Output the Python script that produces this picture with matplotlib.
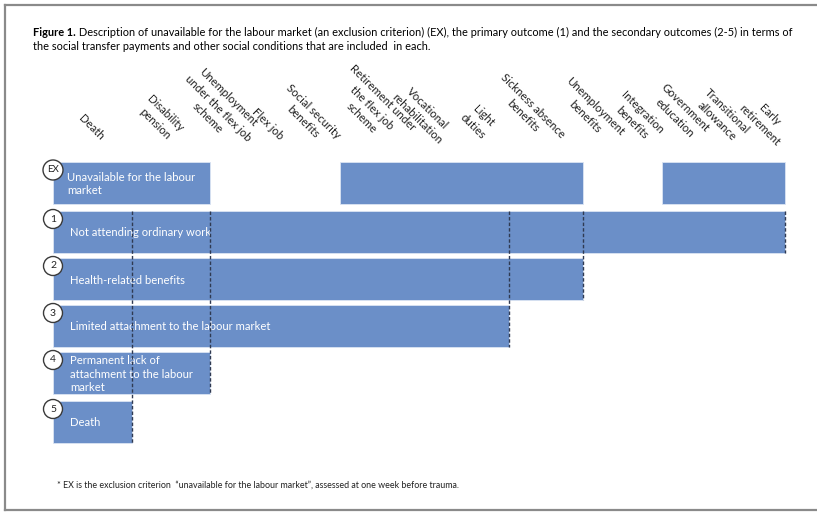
import numpy as np
import matplotlib
matplotlib.use('Agg')
import matplotlib.pyplot as plt
from matplotlib.patches import Circle
from matplotlib.lines import Line2D

plt.rcParams['font.family'] = ['Lato', 'DejaVu Sans']

# ── Data ──────────────────────────────────────────────────
categories = [
    "Death", "Disability\npension", "Unemployment\nunder the flex job\nscheme",
    "Flex job", "Social security\nbenefits", "Retirement under\nthe flex job\nscheme",
    "Vocational\nrehabilitation", "Light\nduties", "Sickness absence\nbenefits",
    "Unemployment\nbenefits", "Integration\nbenefits", "Government\neducation",
    "Transitional\nallowance", "Early\nretirement",
]
outcome_ids = ["EX", "1", "2", "3", "4", "5"]
outcome_names = [
    "Unavailable for the labour\nmarket",
    "Not attending ordinary work",
    "Health-related benefits",
    "Limited attachment to the labour market",
    "Permanent lack of\nattachment to the labour\nmarket",
    "Death",
]
# 1 = category included in outcome
included = [
    [1, 1, 1, 0, 0, 1, 1, 1, 1, 0, 0, 1, 1, 1],  # EX
    [1, 1, 1, 1, 1, 1, 1, 1, 1, 1, 1, 1, 1, 1],  # 1
    [1, 1, 1, 1, 1, 1, 1, 1, 1, 0, 0, 0, 0, 0],  # 2
    [1, 1, 1, 1, 1, 1, 1, 1, 0, 0, 0, 0, 0, 0],  # 3
    [1, 1, 1, 0, 0, 0, 0, 0, 0, 0, 0, 0, 0, 0],  # 4
    [1, 0, 0, 0, 0, 0, 0, 0, 0, 0, 0, 0, 0, 0],  # 5
]
title_bold = "Figure 1."
title_rest = (" Description of unavailable for the labour market (an exclusion criterion) (EX), "
              "the primary outcome (1) and the secondary outcomes (2-5) in terms of")
title_line2 = "the social transfer payments and other social conditions that are included  in each."
footnote = ('* EX is the exclusion criterion  \u201cunavailable for the labour market\u201d, '
            'assessed at one week before trauma.')

# ── Layout (pixel units, y down) ──────────────────────────
W, H = 817, 518
col_edges = [53, 132, 171, 210, 275, 340, 396, 453, 509, 583, 622, 662, 703, 744, 785]
label_xy = [(91, 127), (160, 119), (218, 108), (268, 124), (308, 117), (372, 108),
            (422, 114), (478, 121), (528, 111), (590, 112), (637, 118), (680, 113),
            (722, 116), (765, 120)]
row_top = [162, 211, 258, 305, 352, 401]
bar_h = 42
BLUE = '#6b8fc8'


def runs(flags):
    """Contiguous included runs -> (start_idx, end_idx_exclusive)."""
    out, start = [], None
    for i, f in enumerate(list(flags) + [0]):
        if f and start is None:
            start = i
        elif not f and start is not None:
            out.append((start, i))
            start = None
    return out


fig = plt.figure(figsize=(W / 100, H / 100), dpi=100)
ax = fig.add_axes([0, 0, 1, 1])
ax.set_xlim(0, W)
ax.set_ylim(H, 0)
ax.set_axis_off()

# Frame
for xs, ys in [((5, W + 5), (5, 5)), ((5, 5), (5, 510)), ((5, W + 5), (510, 510))]:
    ax.add_line(Line2D(xs, ys, color='#8a8a8a', lw=1.6))

# Title
fs = 7.95
t = ax.text(33, 36, title_bold, fontsize=fs, fontweight='bold', va='baseline', ha='left')
fig.canvas.draw()
bb = t.get_window_extent()
x_end = ax.transData.inverted().transform((bb.x1, bb.y0))[0]
ax.text(x_end, 36, title_rest, fontsize=fs, va='baseline', ha='left')
ax.text(33, 50, title_line2, fontsize=fs, va='baseline', ha='left')

# Column labels
for name, (cx, cy) in zip(categories, label_xy):
    ax.text(cx, cy, name, fontsize=8.2, rotation=-45, rotation_mode='anchor',
            ha='center', va='center', multialignment='center', color='#222222',
            linespacing=1.4)

# Bars
for k, (oid, name, flags) in enumerate(zip(outcome_ids, outcome_names, included)):
    top = row_top[k]
    spans = [(col_edges[a], col_edges[b] - col_edges[a]) for a, b in runs(flags)]
    ax.broken_barh(spans, (top, bar_h), facecolors=BLUE, edgecolors='#dbe4f3', linewidth=0.6)
    tx = 67 if oid == "EX" else 70
    ax.text(tx, top + bar_h / 2 + 1, name, fontsize=8.1, color='white', va='center', ha='left',
            linespacing=1.25)
    r = 10 if oid == "EX" else 9.5
    ax.add_patch(Circle((col_edges[0], top + 8), r, facecolor='white', edgecolor='#3a3a3a',
                        linewidth=1.0, zorder=5))
    ax.text(col_edges[0], top + 8, oid, fontsize=7 if oid == "EX" else 7.5, ha='center',
            va='center', zorder=6, color='#222222')

# Dashed lines at the right end of outcomes 1-5
for k in range(1, len(outcome_ids)):
    end = col_edges[runs(included[k])[-1][1]]
    ax.plot([end, end], [row_top[1], row_top[k] + bar_h], color='#2f3a52', lw=1.0,
            ls=(0, (2.5, 1.5)), zorder=4)

ax.text(57, 485, footnote, fontsize=6.4, va='center', ha='left', color='#222222')

fig.savefig('out.png', dpi=100)
